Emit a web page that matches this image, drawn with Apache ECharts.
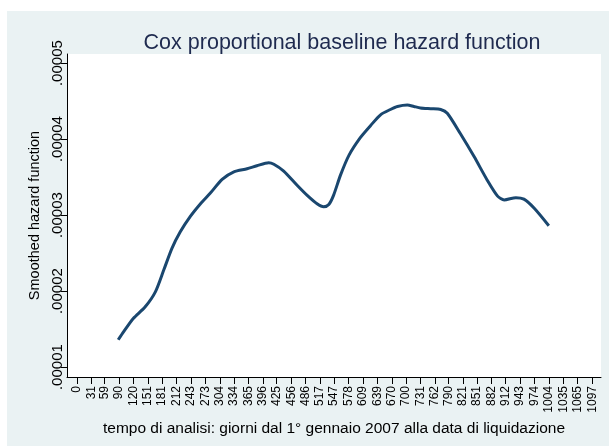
<!DOCTYPE html>
<html>
<head>
<meta charset="utf-8">
<script src="https://cdn.jsdelivr.net/npm/echarts@6/dist/echarts.min.js"></script>
<style>
html,body{margin:0;padding:0;background:#fff;}
#c{width:609px;height:447px;}
</style>
</head>
<body>
<div id="c"></div>
<script>
// analysis time (days) and smoothed hazard values
const days = [88, 100, 120, 145, 167, 185, 202, 220, 241, 263, 284, 309, 334, 362, 383, 408, 419, 440, 469, 490, 511, 525, 536, 546, 561, 579, 603, 625, 646, 667, 682, 703, 717, 731, 753, 774, 788, 816, 845, 873, 895, 909, 934, 951, 973, 1004];
const hazard = [0.0000136, 0.0000147, 0.0000164, 0.0000179, 0.0000199, 0.0000228, 0.0000256, 0.0000278, 0.0000298, 0.0000315, 0.0000329, 0.0000347, 0.0000357, 0.0000361, 0.0000365, 0.0000369, 0.0000367, 0.0000358, 0.0000339, 0.0000326, 0.0000315, 0.0000311, 0.0000314, 0.0000326, 0.0000353, 0.0000379, 0.0000402, 0.0000418, 0.0000432, 0.0000439, 0.0000443, 0.0000445, 0.0000443, 0.0000441, 0.0000440, 0.0000439, 0.0000434, 0.0000407, 0.0000377, 0.0000346, 0.0000325, 0.0000320, 0.0000323, 0.0000321, 0.0000309, 0.0000286];
const xTicks = [0, 31, 59, 90, 120, 151, 181, 212, 243, 273, 304, 334, 365, 396, 425, 456, 486, 517, 547, 578, 609, 639, 670, 700, 731, 762, 790, 821, 851, 882, 912, 943, 974, 1004, 1035, 1065, 1097];
const yTicks = [0.00001, 0.00002, 0.00003, 0.00004, 0.00005];
const yTickLabels = ['.00001', '.00002', '.00003', '.00004', '.00005'];

const FONT = 'Liberation Sans, Arial, sans-serif';
const chart = echarts.init(document.getElementById('c'), null, {renderer: 'canvas'});
chart.setOption({
  animation: false,
  backgroundColor: '#ffffff',
  graphic: [{
    type: 'rect', z: -10, silent: true,
    shape: {x: 7, y: 11, width: 602, height: 435},
    style: {fill: '#eaf2f3'}
  }],
  title: {
    text: 'Cox proportional baseline hazard function',
    left: 337, top: 27, textAlign: 'center',
    textStyle: {fontFamily: FONT, fontSize: 21.5, fontWeight: 'normal', color: '#1e2a4f'}
  },
  grid: {left: 67, top: 54, width: 534, height: 323, show: true, backgroundColor: '#ffffff', borderWidth: 0},
  xAxis: {
    type: 'value', min: -21, max: 1115,
    name: 'tempo di analisi: giorni dal 1° gennaio 2007 alla data di liquidazione',
    nameLocation: 'middle', nameGap: 43,
    nameTextStyle: {fontFamily: FONT, fontSize: 15.5, color: '#000'},
    axisLine: {show: true, onZero: false, lineStyle: {color: '#000', width: 1}},
    axisTick: {show: true, length: 7, lineStyle: {color: '#000'}, customValues: xTicks},
    axisLabel: {show: true, rotate: 90, margin: 9, fontFamily: FONT, fontSize: 12, color: '#000', customValues: xTicks,
      formatter: function (v) { return String(v); }},
    splitLine: {show: false}
  },
  yAxis: {
    type: 'value', min: 0.0000087, max: 0.0000512,
    name: 'Smoothed hazard function',
    nameLocation: 'middle', nameGap: 23, nameRotate: 90,
    nameTextStyle: {fontFamily: FONT, fontSize: 14.5, color: '#000'},
    axisLine: {show: true, onZero: false, lineStyle: {color: '#000', width: 1}},
    axisTick: {show: true, length: 6, lineStyle: {color: '#000'}, customValues: yTicks},
    axisLabel: {show: true, rotate: 90, margin: 2, fontFamily: FONT, fontSize: 15, color: '#000', customValues: yTicks,
      formatter: function (v) { const i = yTicks.findIndex(t => Math.abs(t - v) < 1e-9); return i >= 0 ? yTickLabels[i] : ''; }},
    splitLine: {show: false}
  },
  series: [{
    type: 'line',
    data: days.map((d, i) => [d, hazard[i]]),
    smooth: 0.25,
    symbol: 'none',
    lineStyle: {color: '#1a476f', width: 3},
    markLine: {
      silent: true, symbol: 'none', label: {show: false},
      lineStyle: {color: '#e6eef0', width: 1, type: 'solid'},
      z: 1,
      data: yTicks.map(v => ({yAxis: v}))
    }
  }]
});
</script>
</body>
</html>
